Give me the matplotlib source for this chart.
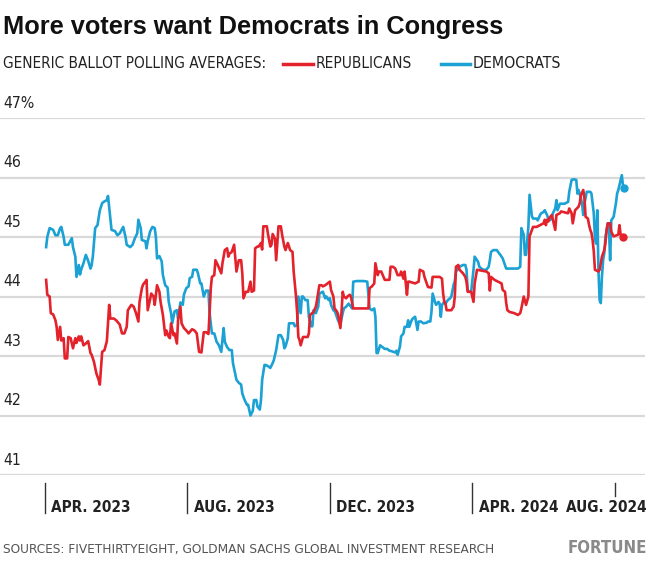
import pandas as pd
import matplotlib
matplotlib.use("Agg")
import matplotlib.pyplot as plt
from matplotlib import font_manager as fm

# === DATA ===
START = pd.Timestamp("2023-04-01")

dem_days = [1, 2, 4, 7, 9, 11, 13, 14, 16, 17, 20, 23, 24, 26, 27, 29, 30, 31, 33, 35,
            37, 39, 40, 41, 43, 45, 47, 49, 51, 53, 54, 56, 57, 60, 62, 64, 67, 69, 70, 73,
            75, 77, 79, 80, 82, 83, 86, 87, 88, 90, 92, 94, 95, 96, 98, 100, 101, 103, 105, 106,
            108, 109, 111, 113, 114, 116, 118, 119, 121, 123, 124, 126, 127, 130, 131, 133, 134, 136, 138, 140,
            141, 143, 145, 147, 149, 151, 153, 154, 156, 158, 160, 161, 164, 166, 168, 169, 171, 173, 174, 176,
            178, 179, 181, 182, 184, 185, 186, 188, 189, 191, 193, 195, 196, 198, 200, 202, 204, 205, 206, 208,
            209, 211, 213, 214, 216, 217, 219, 220, 221, 223, 225, 226, 228, 229, 230, 232, 234, 235, 238, 240,
            241, 243, 244, 245, 247, 248, 250, 251, 253, 254, 255, 256, 258, 260, 262, 263, 264, 267, 270, 273,
            276, 278, 280, 282, 283, 284, 285, 287, 289, 291, 293, 295, 297, 300, 301, 302, 304, 305, 307, 308,
            310, 311, 312, 314, 315, 317, 319, 320, 322, 324, 327, 328, 330, 331, 332, 334, 335, 337, 338, 339,
            340, 342, 343, 345, 347, 348, 350, 351, 352, 355, 358, 360, 361, 362, 363, 365, 367, 368, 369, 371,
            372, 375, 378, 380, 381, 382, 384, 387, 388, 390, 392, 394, 395, 401, 405, 407, 408, 410, 411, 412,
            414, 415, 417, 418, 421, 422, 424, 425, 427, 428, 430, 431, 432, 434, 435, 437, 438, 439, 441, 445,
            448, 449, 451, 453, 455, 456, 457, 459, 460, 461, 462, 464, 467, 468, 469, 470, 471, 472, 473, 474,
            475, 476, 477, 478, 479, 480, 482, 483, 484, 485, 487, 489, 490, 491, 493, 494, 495, 496]
dem_vals = [44.83, 45.0, 45.15, 45.12, 45.03, 45.03, 45.15, 45.17, 45.0, 44.87, 44.87, 44.98, 44.83, 44.67, 44.33, 44.53, 44.37, 44.45, 44.56, 44.7,
            44.6, 44.47, 44.53, 44.67, 45.15, 45.2, 45.45, 45.57, 45.6, 45.62, 45.69, 45.31, 45.12, 45.1, 45.03, 45.06, 45.17, 45.0, 44.87, 44.83,
            44.87, 44.98, 45.06, 45.29, 45.15, 44.95, 44.93, 44.81, 44.93, 45.09, 45.17, 45.15, 45.0, 44.64, 44.68, 44.59, 44.36, 44.19, 44.15, 43.91,
            43.72, 43.55, 43.75, 43.77, 43.63, 43.9, 43.86, 44.03, 44.14, 44.17, 44.31, 44.33, 44.45, 44.45, 44.39, 44.22, 44.22, 44.0, 44.1, 44.1,
            43.72, 43.38, 43.38, 43.24, 43.18, 43.07, 43.47, 43.24, 43.15, 43.1, 43.1, 42.88, 42.6, 42.55, 42.52, 42.37, 42.26, 42.18, 42.18, 42.0,
            42.08, 42.26, 42.26, 42.15, 42.1, 42.26, 42.6, 42.85, 42.85, 42.83, 42.8, 42.88, 42.93, 43.1, 43.35, 43.35, 43.27, 43.13, 43.16, 43.3,
            43.55, 43.55, 43.55, 43.5, 43.52, 44.0, 43.72, 44.0, 44.0, 43.94, 43.94, 43.66, 43.5, 43.5, 43.77, 43.72, 43.83, 44.05, 44.08, 43.97,
            44.0, 43.94, 43.97, 43.86, 43.77, 43.77, 43.66, 43.6, 43.52, 43.63, 43.72, 43.8, 43.83, 43.88, 43.83, 43.8, 44.25, 44.26, 44.26, 44.26,
            44.25, 43.8, 43.77, 43.8, 43.66, 43.05, 43.05, 43.18, 43.15, 43.12, 43.12, 43.09, 43.08, 43.06, 43.09, 43.02, 43.16, 43.33, 43.38, 43.49,
            43.49, 43.6, 43.49, 43.6, 43.63, 43.66, 43.44, 43.58, 43.58, 43.55, 43.56, 43.58, 43.58, 43.74, 44.05, 43.91, 43.86, 43.91, 43.88, 43.66,
            43.86, 43.91, 43.88, 43.94, 43.97, 44.0, 44.2, 44.26, 44.42, 44.5, 44.53, 44.53, 44.45, 44.11, 44.08, 44.08, 44.45, 44.67, 44.64, 44.58,
            44.5, 44.45, 44.45, 44.5, 44.61, 44.75, 44.78, 44.78, 44.75, 44.7, 44.64, 44.53, 44.47, 44.47, 44.47, 44.5, 45.15, 45.04, 44.7, 44.7,
            45.17, 45.71, 45.35, 45.31, 45.31, 45.28, 45.37, 45.4, 45.42, 45.45, 45.37, 45.31, 45.28, 45.31, 45.4, 45.48, 45.62, 45.45, 45.56, 45.56,
            45.59, 45.76, 45.96, 45.97, 45.96, 45.73, 45.79, 45.65, 45.56, 45.37, 45.56, 45.76, 45.76, 45.73, 45.56, 45.4, 45.0, 44.89, 45.45, 44.45,
            43.94, 43.89, 44.34, 44.61, 44.73, 45.0, 45.23, 45.17, 44.61, 45.28, 45.34, 45.57, 45.73, 45.79, 45.96, 46.04, 45.87, 45.82]

rep_days = [1, 2, 4, 5, 7, 9, 10, 11, 13, 14, 16, 17, 19, 20, 22, 24, 26, 27, 29, 30,
            31, 33, 35, 37, 39, 40, 42, 44, 46, 47, 49, 51, 53, 55, 56, 59, 61, 64, 66, 68,
            70, 71, 74, 76, 78, 80, 81, 83, 84, 86, 87, 88, 90, 91, 93, 94, 96, 98, 99, 101,
            103, 104, 106, 107, 108, 110, 111, 113, 114, 116, 117, 119, 121, 123, 126, 128, 130, 132, 134, 136,
            138, 140, 141, 142, 143, 145, 146, 148, 151, 152, 154, 156, 157, 158, 160, 162, 163, 164, 166, 168,
            169, 170, 172, 174, 176, 177, 179, 180, 182, 183, 185, 186, 187, 190, 191, 193, 194, 195, 197, 198,
            200, 202, 203, 205, 206, 208, 210, 212, 213, 215, 216, 217, 218, 219, 221, 223, 225, 226, 227, 230,
            232, 233, 235, 237, 238, 240, 242, 244, 245, 247, 248, 250, 251, 253, 254, 255, 256, 258, 259, 261,
            262, 264, 270, 277, 278, 280, 282, 283, 285, 286, 288, 291, 295, 296, 298, 300, 302, 304, 305, 307,
            308, 310, 311, 312, 317, 320, 321, 324, 325, 327, 328, 331, 332, 338, 340, 341, 342, 343, 344, 348,
            350, 351, 352, 354, 355, 358, 360, 361, 362, 365, 367, 368, 370, 378, 380, 381, 382, 385, 391, 392,
            394, 395, 396, 398, 402, 405, 407, 408, 410, 412, 414, 415, 417, 418, 421, 424, 427, 428, 429, 430,
            431, 432, 434, 435, 437, 438, 441, 442, 448, 449, 451, 452, 454, 457, 458, 459, 461, 462, 463, 465,
            466, 467, 468, 469, 470, 471, 474, 475, 476, 477, 479, 480, 481, 482, 484, 485, 487, 491, 492, 493,
            495]
rep_vals = [44.28, 44.03, 44.0, 43.72, 43.7, 43.6, 43.49, 43.27, 43.49, 43.26, 43.3, 42.96, 42.96, 43.32, 43.3, 43.13, 43.3, 43.22, 43.33, 43.26,
            43.33, 43.18, 43.21, 43.25, 43.05, 43.02, 42.9, 42.71, 42.6, 42.52, 43.07, 43.1, 43.25, 43.86, 43.63, 43.63, 43.6, 43.53, 43.38, 43.38,
            43.49, 43.77, 43.86, 43.83, 43.72, 43.58, 43.91, 44.14, 44.2, 44.25, 44.28, 43.77, 43.95, 44.05, 44.0, 43.86, 44.19, 44.08, 43.91, 43.69,
            43.35, 43.43, 43.32, 43.3, 43.55, 43.35, 43.38, 43.21, 43.6, 43.83, 43.55, 43.47, 43.43, 43.38, 43.45, 43.43, 43.38, 43.07, 43.06, 43.4,
            43.4, 43.37, 43.72, 44.14, 44.33, 44.36, 44.61, 44.53, 44.39, 44.56, 44.78, 44.81, 44.67, 44.72, 44.75, 44.87, 44.64, 44.42, 44.61, 44.61,
            44.39, 43.97, 44.08, 44.08, 44.25, 44.08, 44.1, 44.81, 44.84, 44.84, 44.9, 44.79, 45.18, 45.18, 45.05, 44.84, 44.87, 45.05, 44.97, 44.61,
            45.18, 45.18, 45.05, 44.84, 44.78, 44.9, 44.78, 44.75, 44.42, 44.0, 43.72, 43.32, 43.27, 43.18, 43.32, 43.32, 43.32, 43.38, 43.69, 43.74,
            43.83, 43.94, 44.19, 44.19, 44.17, 44.19, 44.22, 44.25, 44.11, 44.0, 43.8, 43.75, 43.7, 43.47, 43.75, 44.08, 44.0, 43.97, 44.0, 44.03,
            44.0, 43.8, 43.8, 43.8, 44.14, 44.17, 44.22, 44.56, 44.36, 44.42, 44.42, 44.28, 44.28, 44.5, 44.5, 44.47, 44.36, 44.36, 44.42, 44.3,
            44.42, 44.03, 44.25, 44.25, 44.22, 44.25, 44.45, 44.42, 44.33, 44.22, 44.16, 44.15, 44.33, 44.33, 44.3, 44.05, 43.91, 43.88, 43.77, 43.77,
            43.83, 44.0, 44.5, 44.53, 44.45, 44.39, 44.33, 44.25, 44.08, 44.08, 43.91, 44.22, 44.45, 44.42, 44.39, 44.1, 44.33, 44.28, 44.22, 44.11,
            44.08, 43.89, 43.77, 43.74, 43.72, 43.69, 43.72, 43.8, 44.0, 43.86, 44.0, 45.01, 45.12, 45.17, 45.17, 45.2, 45.23, 45.29, 45.2, 45.29,
            45.26, 45.32, 45.37, 45.29, 45.12, 45.37, 45.4, 45.43, 45.4, 45.48, 45.4, 45.23, 45.45, 45.51, 45.57, 45.71, 45.79, 45.65, 45.34, 45.31,
            45.2, 45.12, 45.07, 44.95, 44.76, 44.45, 44.42, 44.45, 44.56, 44.67, 44.78, 44.9, 45.12, 45.23, 45.23, 45.09, 45.01, 45.04, 45.2, 45.04,
            45.0]

y_ticks = [41, 42, 43, 44, 45, 46, 47]
y_labels = ["41", "42", "43", "44", "45", "46", "47%"]
x_ticks = ["2023-04-01", "2023-08-01", "2023-12-01", "2024-04-01", "2024-08-01"]
x_labels = ["APR. 2023", "AUG. 2023", "DEC. 2023", "APR. 2024", "AUG. 2024"]

RED = "#e3222b"
BLUE = "#1ba1d4"

# condensed face if there is one, otherwise the narrowest plain sans
cond = fm.findfont(fm.FontProperties(family="DejaVu Sans", stretch="condensed"))
if "Condensed" in cond:
    NARROW = dict(family="DejaVu Sans", fontstretch="condensed")
else:
    NARROW = dict(family="Liberation Sans")

dem_dates = START + pd.to_timedelta(dem_days, unit="D")
rep_dates = START + pd.to_timedelta(rep_days, unit="D")

fig = plt.figure(figsize=(6.5, 5.8), dpi=100, facecolor="white")
ax = fig.add_axes([0.0, 0.181, 0.992, 0.6155])
ax.set_ylim(41, 47)
ax.set_xlim(START - pd.Timedelta(days=38.5), START + pd.Timedelta(days=513.7))
for s in ax.spines.values():
    s.set_visible(False)
ax.set_xticks([])
ax.set_yticks([])
renderer = fig.canvas.get_renderer()


def fit(t, width_px):
    # scale a text's font size so it spans width_px like the reference
    w = t.get_window_extent(renderer).width
    t.set_fontsize(t.get_fontsize() * width_px / w)
    return t


# gridlines + y labels sitting above them
ylabs = []
for v, lab in zip(y_ticks, y_labels):
    ax.axhline(v, color="#d9d9d9", lw=1.6, zorder=0)
    t = ax.text(0.005, v + 0.25, lab, transform=ax.get_yaxis_transform(),
                ha="left", va="center", fontsize=12, color="#222222", **NARROW)
    ylabs.append(t)
fit(ylabs[-1], 31)
for t in ylabs[:-1]:
    t.set_fontsize(ylabs[-1].get_fontsize())

# lines
ax.plot(dem_dates, dem_vals, color=BLUE, lw=1.9, zorder=2)
ax.plot(rep_dates, rep_vals, color=RED, lw=1.9, zorder=3)
ax.plot(dem_dates[-1:], dem_vals[-1:], "o", color=BLUE, ms=5, zorder=4)
ax.plot(rep_dates[-1:], rep_vals[-1:], "o", color=RED, ms=5, zorder=4)

# x ticks drawn under the plot area
xl = []
for i, (d, lab) in enumerate(zip(x_ticks, x_labels)):
    d = pd.Timestamp(d)
    last = i == len(x_ticks) - 1
    ax.plot([d, d], [40.87, 40.64 if last else 40.37], color="#333333", lw=1, clip_on=False)
    if last:
        t = ax.text(1.0 + 2 / 645, 40.45, lab, transform=ax.get_yaxis_transform(), ha="right",
                    va="center", fontsize=12.5, fontweight="bold", color="#222222", **NARROW)
    else:
        t = ax.text(d + pd.Timedelta(days=5.5), 40.45, lab, ha="left", va="center", fontsize=12.5,
                    fontweight="bold", color="#222222", clip_on=False, **NARROW)
    xl.append(t)
fit(xl[0], 80)
for t in xl[1:]:
    t.set_fontsize(xl[0].get_fontsize())

# title, legend, footer
title = fig.text(0.005, 1 - 27 / 580, "More voters want Democrats in Congress", ha="left", va="center",
                 fontsize=17, fontweight="bold", family=["Liberation Sans", "DejaVu Sans"], color="#111111")
fit(title, 502)
ly = 1 - 64 / 580
sub = fig.text(0.005, ly, "GENERIC BALLOT POLLING AVERAGES:", ha="left", va="center",
               fontsize=13, color="#222222", **NARROW)
fit(sub, 262)
fig.add_artist(plt.Line2D([283 / 650, 313 / 650], [ly, ly], color=RED, lw=2.5))
r = fig.text(316 / 650, ly, "REPUBLICANS", ha="left", va="center", fontsize=13, color="#222222", **NARROW)
fit(r, 96)
fig.add_artist(plt.Line2D([441 / 650, 470 / 650], [ly, ly], color=BLUE, lw=2.5))
d = fig.text(473 / 650, ly, "DEMOCRATS", ha="left", va="center", fontsize=13, color="#222222", **NARROW)
fit(d, 88)

src = fig.text(0.005, 1 - 549 / 580, "SOURCES: FIVETHIRTYEIGHT, GOLDMAN SACHS GLOBAL INVESTMENT RESEARCH",
               ha="left", va="center", fontsize=10.5, color="#555555", **NARROW)
fit(src, 490)
brand = fig.text(0.996, 1 - 548 / 580, "FORTUNE", ha="right", va="center", fontsize=14,
                 fontweight="bold", color="#8a8a8a", **NARROW)
fit(brand, 80)

fig.savefig("out.png", dpi=100, facecolor="white")
